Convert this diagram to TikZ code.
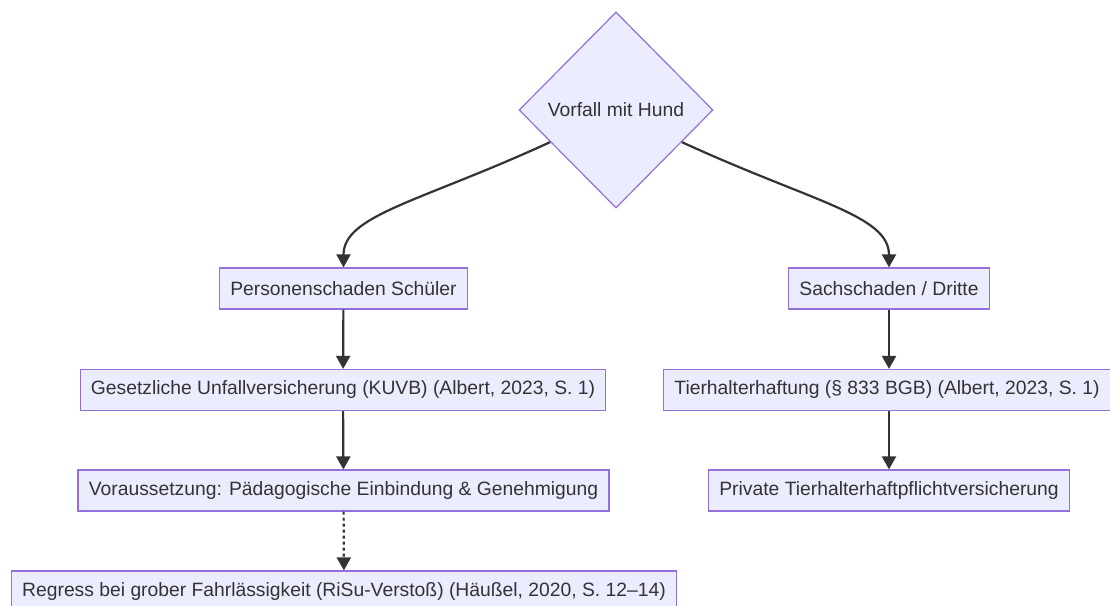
\documentclass[tikz,border=0pt]{standalone}
\usepackage{fontspec}
\setmainfont{Liberation Sans}
\usepackage{tikz}
\usetikzlibrary{arrows.meta,shapes.geometric}
\definecolor{mmfill}{HTML}{ECECFF}
\definecolor{mmline}{HTML}{9370DB}
\definecolor{mmtext}{HTML}{333333}
\tikzset{
  flownode/.style = {align=center, text=mmtext, font=\fontsize{19.3}{23}\selectfont,
    fill=mmfill, draw=mmline, line width=1.2pt},
  fl_box/.style = {flownode, rectangle, inner xsep=10.8pt, inner ysep=0pt,
    minimum height=41pt},% kasten
  fl_dia/.style = {flownode, diamond, inner sep=0pt,
    minimum width=194pt, minimum height=196pt},% entscheidung
  fl_arr/.style = {draw=mmtext, line width=2.2pt},% pfeil
  fl_dot/.style = {fl_arr, dash pattern=on 3pt off 3pt}% pfeil, optional
}
\begin{document}
\begin{tikzpicture}[x=1pt,y=1pt,->,>={Triangle[length=13pt,width=14pt]}]
\useasboundingbox (0,0) rectangle (1110,-605);
\node [fl_dia] (vorfall) at (616,-110) {Vorfall mit Hund};
% linker zweig
\node [fl_box] (person) at (343.5,-288.5) {Personenschaden Schüler};
\node [fl_box] (unfall) at (343,-390) {Gesetzliche Unfallversicherung (KUVB) (Albert, 2023, S. 1)};
\node [fl_box] (vorauss) at (343.5,-490.5) {Voraussetzung: Pädagogische Einbindung \& Genehmigung};
\node [fl_box] (regress) at (344,-591.5) {Regress bei grober Fahrlässigkeit (RiSu-Verstoß) (Häußel, 2020, S. 12–14)};
% rechter zweig
\node [fl_box] (sach) at (889,-288.5) {Sachschaden / Dritte};
\node [fl_box] (tierhalter) at (887,-390) {Tierhalterhaftung (§ 833 BGB) (Albert, 2023, S. 1)};
\node [fl_box] (privat) at (889,-490.5) {Private Tierhalterhaftpflichtversicherung};

\draw [fl_arr] (vorfall.-154) .. controls (420,-202) and (343.5,-215) .. (person);
\draw [fl_arr] (vorfall.-26) .. controls (812,-202) and (889,-215) .. (sach);
\draw [fl_arr] (person) -- (unfall);
\draw [fl_arr] (unfall) -- (vorauss);
\draw [fl_dot] (vorauss) -- (regress);
\draw [fl_arr] (sach) -- (sach |- tierhalter.north);
\draw [fl_arr] (sach |- tierhalter.south) -- (privat);
\end{tikzpicture}
\end{document}
